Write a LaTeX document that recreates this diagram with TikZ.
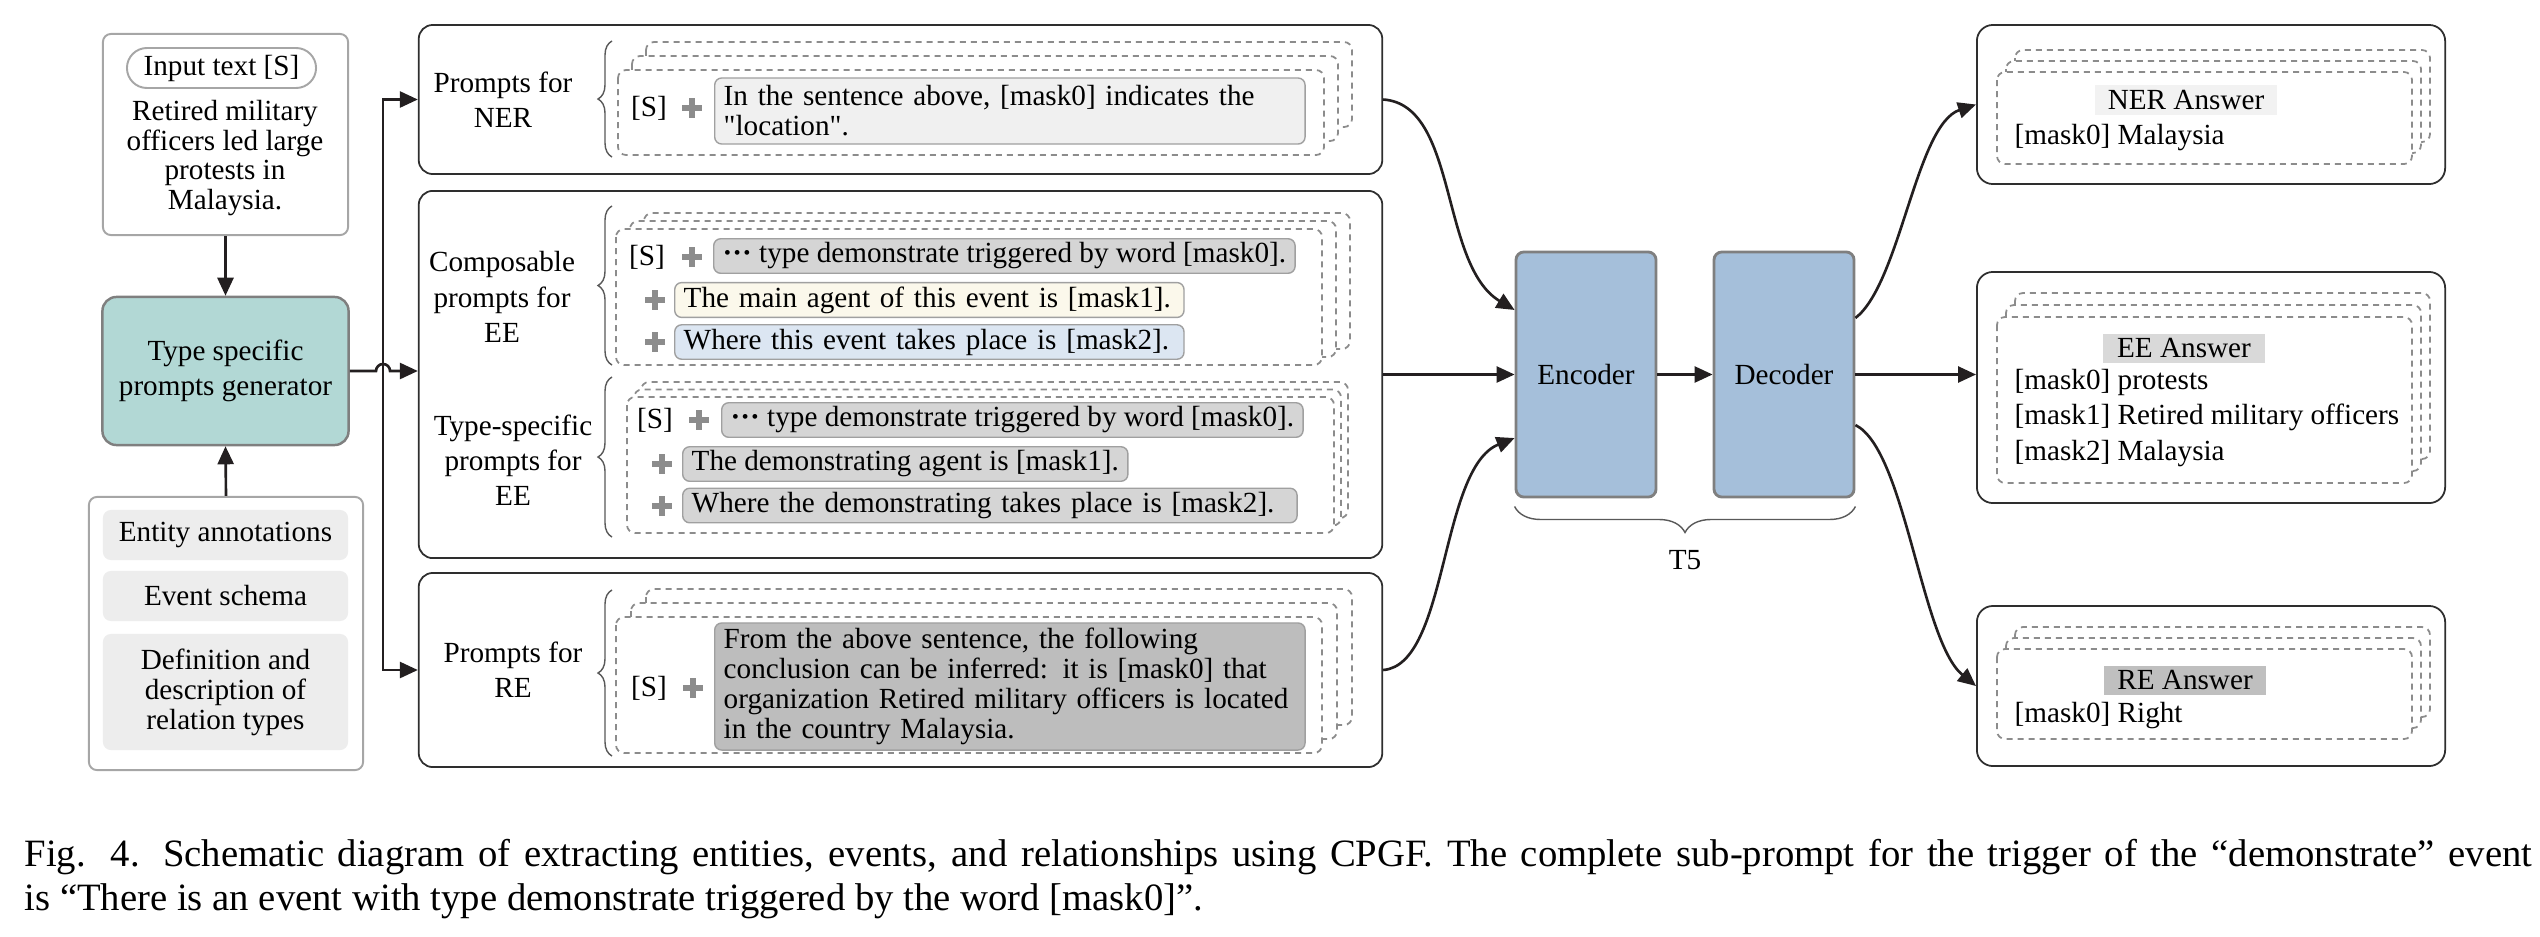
\documentclass[tikz,border=0pt]{standalone}
\usepackage{fontspec}
\setmainfont{Liberation Serif}
\newfontfamily\plainserif{Liberation Serif}[Ligatures=TeXOff]
\usetikzlibrary{arrows.meta,decorations.pathreplacing,positioning}

\definecolor{lineblack}{HTML}{231F20}
\definecolor{boxdark}{HTML}{2E2E2E}
\definecolor{boxgray}{HTML}{A6A6A6}
\definecolor{tealfill}{HTML}{B2D8D5}
\definecolor{encline}{HTML}{7F7F7F}
\definecolor{encfill}{HTML}{A5BFDA}
\definecolor{infogray}{HTML}{EDEDED}
\definecolor{dashgray}{HTML}{8C8C8C}
\definecolor{plusgray}{HTML}{8C8C8C}
\definecolor{bracecol}{HTML}{595959}
\definecolor{tbline}{HTML}{A0A0A0}
\definecolor{nerfill}{HTML}{F0F0F0}
\definecolor{trigfill}{HTML}{D5D5D5}
\definecolor{agentfill}{HTML}{FBF8EB}
\definecolor{placefill}{HTML}{DCE6F2}
\definecolor{refill}{HTML}{BDBDBD}
\definecolor{anslabA}{HTML}{F2F2F2}
\definecolor{anslabB}{HTML}{D9D9D9}
\definecolor{anslabC}{HTML}{BFBFBF}

\newcommand{\diagfont}{\fontsize{8.3}{8.5}\selectfont}
\newcommand{\labfont}{\fontsize{8.3}{10}\selectfont}
\newcommand{\ansfont}{\fontsize{8.3}{10.2}\selectfont}
\newcommand{\capfont}{\fontsize{11}{12.5}\selectfont}

\tikzset{
  conn/.style={draw=lineblack, line width=0.75pt},
  arr/.style={conn, -{Triangle[length=0.18cm,width=0.16cm]}},
  leftbox/.style={draw=boxgray, line width=0.55pt, rounded corners=0.08cm, fill=white},
  pillbox/.style={draw=boxgray, line width=0.55pt, rounded corners=0.2cm, minimum width=1.89cm, minimum height=0.40cm, inner sep=0pt},
  genbox/.style={draw=encline, line width=0.7pt, fill=tealfill, rounded corners=0.14cm, minimum width=2.46cm, minimum height=1.48cm, align=center, font=\labfont},
  infoitem/.style={fill=infogray, rounded corners=0.08cm, minimum width=2.45cm, align=center},
  bigbox/.style={draw=boxdark, line width=0.5pt, rounded corners=0.14cm, fill=white, minimum width=9.63cm},
  labeltext/.style={align=center, font=\labfont},
  bracegray/.style={draw=bracecol, line width=0.4pt, decorate, decoration={brace, amplitude=0.14cm}},
  stackline/.style={draw=dashgray, line width=0.5pt, dash pattern=on 0.06cm off 0.05cm, rounded corners=0.08cm, fill=white},
  promptbox/.style={draw=tbline, line width=0.4pt, rounded corners=0.07cm, inner xsep=0.09cm, inner ysep=0.04cm, minimum height=0.34cm, anchor=west},
  t5box/.style={draw=encline, line width=0.8pt, fill=encfill, rounded corners=0.08cm, minimum width=1.40cm, minimum height=2.45cm},
  ansbox/.style={draw=boxdark, line width=0.5pt, rounded corners=0.16cm, fill=white, minimum width=4.68cm},
  anslab/.style={minimum height=0.29cm, inner sep=0pt},
  anstext/.style={align=left, font=\ansfont, inner sep=0pt, anchor=west},
  plussign/.pic={\fill[plusgray] (-10,-3) rectangle (10,3); \fill[plusgray] (-3,-10) rectangle (3,10);},
}

\begin{document}
\begin{tikzpicture}[x=0.01cm, y=-0.01cm, font=\diagfont]
\useasboundingbox (0,0) rectangle (2540,936);

% Input text box
\node[leftbox, minimum width=2.45cm, minimum height=2.01cm] (inbox) at (225.5,134.5) {};
\node[pillbox] (inpill) at (221.5,68) {Input text [S]};
\node[align=center] (intext) at (225,158) {Retired military\\officers led large\\protests in\\Malaysia.};

% Prompts generator
\node[genbox] (gen) at (225.5,371) {Type specific\\prompts generator};

% Knowledge box
\node[leftbox, minimum width=2.74cm, minimum height=2.73cm] (infobox) at (226,633.5) {};
\node[infoitem, minimum height=0.50cm] (ent) at (225.5,535) {Entity annotations};
\node[infoitem, minimum height=0.50cm] (evs) at (225.5,596) {Event schema};
\node[infoitem, minimum height=1.16cm] (defn) at (225.5,692) {Definition and\\description of\\relation types};

\draw[arr] (inbox.south) -- (gen.north);
\draw[arr] (infobox.north) -- (gen.south);

% Prompt boxes
\node[bigbox, minimum height=1.49cm] (nerbox) at (900.5,99.5) {};
\node[bigbox, minimum height=3.67cm] (eebox) at (900.5,374.5) {};
\node[bigbox, minimum height=1.94cm] (rebox) at (900.5,670) {};

% Branch to the prompt boxes
\coordinate (brtop) at (383,99.5);
\coordinate (brbot) at (383,670);
\draw[conn, {Triangle[length=0.18cm,width=0.16cm]}-{Triangle[length=0.18cm,width=0.16cm]}] (nerbox.west) -- (brtop) -- (brbot) -- (rebox.west);
\draw[arr] (gen.east) -- (376,371) arc[start angle=180, end angle=0, radius=0.07cm] -- (eebox.west |- gen.east);

% Prompt labels and braces
\node[labeltext] (nerlab) at (503,100) {Prompts for\\NER};
\node[labeltext] (comlab) at (502,297) {Composable\\prompts for\\EE};
\node[labeltext] (typlab) at (513,460) {Type-specific\\prompts for\\EE};
\node[labeltext] (relab) at (513,670) {Prompts for\\RE};
\draw[bracegray] (612,157) -- (612,41);
\draw[bracegray] (612,365) -- (612,206);
\draw[bracegray] (612,537) -- (612,377);
\draw[bracegray] (612,756) -- (612,590);

% Dashed stacks
\foreach \d in {2,1,0}
  \draw[stackline] (618+14*\d,70-14*\d) rectangle (1324+14*\d,155-14*\d);
\foreach \d in {2,1,0}
  \draw[stackline] (616+14*\d,229-8*\d) rectangle (1322+14*\d,365-8*\d);
\foreach \d in {2,1,0}
  \draw[stackline] (627+7*\d,397-7.5*\d) rectangle (1334+7*\d,533-7.5*\d);
\foreach \d in {2,1,0}
  \draw[stackline] (616+15*\d,617-14*\d) rectangle (1322+15*\d,753-14*\d);

% NER prompt
\node (ners) at (649,108) {[S]};
\pic at (692,108) {plussign};
\node[promptbox, fill=nerfill, text width=5.72cm, align=left, minimum height=0.66cm] (nertxt) at (714,111) {\plainserif In the sentence above, [mask0] indicates the\\"location".};

% Composable EE prompt
\node (eesA) at (647,257) {[S]};
\pic at (692,257) {plussign};
\node[promptbox, fill=trigfill] (eetrigA) at (713,256) {{\bfseries ···} type demonstrate triggered by word [mask0].};
\pic at (655,300) {plussign};
\node[promptbox, fill=agentfill, text width=4.91cm, align=left] (eeagentA) at (674,300) {The main agent of this event is [mask1].};
\pic at (655,342) {plussign};
\node[promptbox, fill=placefill, text width=4.91cm, align=left] (eeplaceA) at (674,342) {Where this event takes place is [mask2].};

% Type-specific EE prompt
\node (eesB) at (655,420) {[S]};
\pic at (699,420) {plussign};
\node[promptbox, fill=trigfill] (eetrigB) at (721,420) {{\bfseries ···} type demonstrate triggered by word [mask0].};
\pic at (662,464) {plussign};
\node[promptbox, fill=trigfill] (eeagentB) at (682,464) {The demonstrating agent is [mask1].};
\pic at (662,505.5) {plussign};
\node[promptbox, fill=trigfill, text width=5.96cm, align=left] (eeplaceB) at (682,505.5) {Where the demonstrating takes place is [mask2].};

% RE prompt
\node (res) at (649,688) {[S]};
\pic at (693,688) {plussign};
\node[promptbox, fill=refill, text width=5.72cm, align=left, minimum height=1.27cm] (retxt) at (714,686.5) {From the above sentence, the following\\conclusion can be inferred: it is [mask0] that\\organization Retired military officers is located\\in the country Malaysia.};

% T5
\node[t5box] (enc) at (1586,374.5) {Encoder};
\node[t5box] (dec) at (1784,374.5) {Decoder};
\draw[bracegray, decoration={brace, amplitude=0.26cm}] ([yshift=-0.08cm]dec.south east) -- ([yshift=-0.08cm]enc.south west);
\node (t5) at (1685,560) {T5};

\draw[arr] (nerbox.east) .. controls +(75,5) and +(-75,-45) .. ([yshift=0.645cm]enc.west);
\draw[arr] (eebox.east) -- (enc.west);
\draw[arr] (rebox.east) .. controls +(65,-5) and +(-75,30) .. ([yshift=-0.635cm]enc.west);
\draw[arr] (enc) -- (dec);

% Answer boxes
\node[ansbox, minimum height=1.59cm] (neransbox) at (2211,104.5) {};
\node[ansbox, minimum height=2.31cm] (eeansbox) at (2211,387.5) {};
\node[ansbox, minimum height=1.60cm] (reansbox) at (2211,686) {};
\foreach \d in {2,1,0}
  \draw[stackline] (1997+9*\d,72-11*\d) rectangle (2412+9*\d,164-11*\d);
\foreach \d in {2,1,0}
  \draw[stackline] (1997+9*\d,317-12*\d) rectangle (2412+9*\d,483-12*\d);
\foreach \d in {2,1,0}
  \draw[stackline] (1997+9*\d,649-11*\d) rectangle (2412+9*\d,739-11*\d);

\node[anslab, fill=anslabA, minimum width=1.81cm] (neranslab) at (2186,100) {NER Answer};
\node[anstext] (neransval) at (2014,138) {[mask0] Malaysia};
\node[anslab, fill=anslabB, minimum width=1.62cm] (eeanslab) at (2184,348) {EE Answer};
\node[anstext] (eeansval) at (2014,418) {[mask0] protests\\{}[mask1] Retired military officers\\{}[mask2] Malaysia};
\node[anslab, fill=anslabC, minimum width=1.61cm] (reanslab) at (2185,680) {RE Answer};
\node[anstext] (reansval) at (2014,716) {[mask0] Right};

\draw[arr] ([yshift=0.565cm]dec.east) .. controls +(45,-35) and +(-60,20) .. (neransbox.west);
\draw[arr] (dec.east) -- (dec.east -| eeansbox.west);
\draw[arr] ([yshift=-0.505cm]dec.east) .. controls +(50,25) and +(-55,-45) .. (reansbox.west);

% Caption
\node[font=\capfont, anchor=base west, inner sep=0pt] (capA) at (24,866) {\makebox[25.06cm][s]{Fig. 4.\hspace{0.6em}Schematic diagram of extracting entities, events, and relationships using CPGF. The complete sub-prompt for the trigger of the “demonstrate” event}};
\node[font=\capfont, anchor=base west, inner sep=0pt] (capB) at (24,910) {is “There is an event with type demonstrate triggered by the word [mask0]”.};
\end{tikzpicture}
\end{document}
